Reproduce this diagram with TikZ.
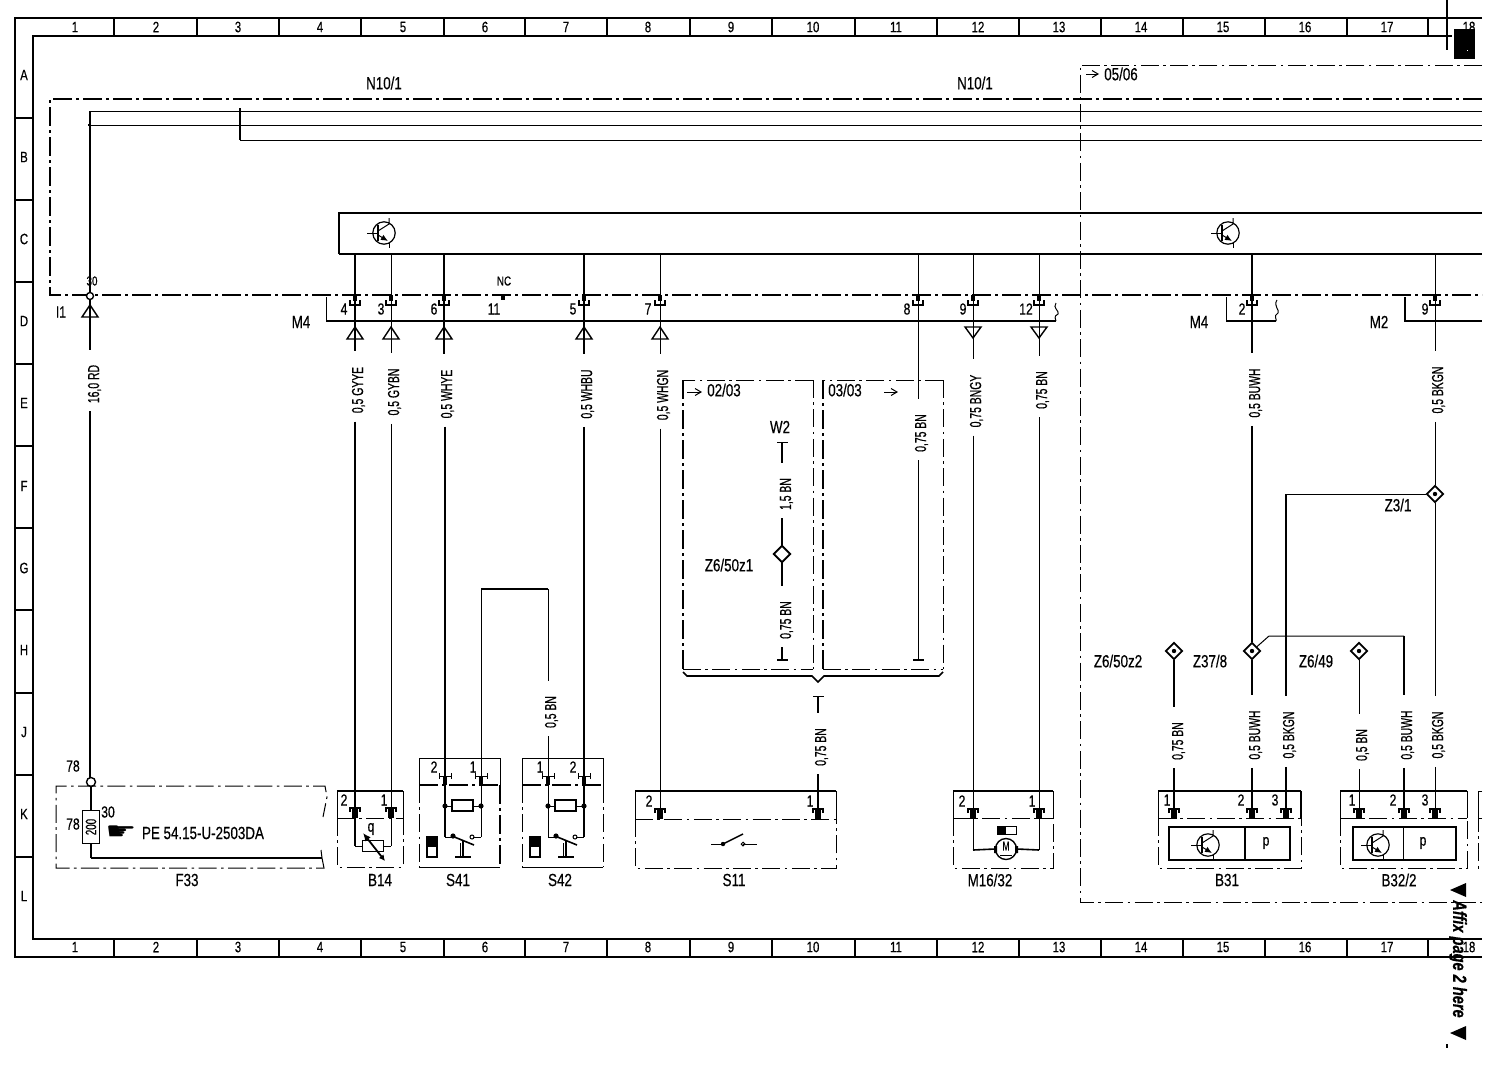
\documentclass[tikz,border=0pt]{standalone}
\usepackage{fontspec}
\setmainfont{Liberation Sans}
\newfontfamily\wirefnt[FakeStretch=0.65,FakeBold=0.5]{Liberation Sans}
\newfontfamily\txtfnt[FakeStretch=0.76,FakeBold=0.5]{Liberation Sans}
\newfontfamily\symfnt{DejaVu Sans}
\usetikzlibrary{shapes.geometric,arrows.meta}
\tikzset{
 thinw/.style={line width=0.5pt},
 thickw/.style={line width=1pt},
 dd/.style={line width=0.8pt,dash pattern=on 9.5pt off 2pt on 1.5pt off 2pt},
 ddt/.style={line width=0.5pt,dash pattern=on 9pt off 2.2pt on 1.3pt off 2.2pt},
 wl/.style={rotate=90,inner xsep=4pt,inner ysep=0pt,font=\wirefnt\fontsize{8}{8}\selectfont},
 tl/.style={inner sep=0pt,font=\txtfnt\fontsize{8.8}{9}\selectfont},
 pl/.style={inner sep=0pt,font=\txtfnt\fontsize{8}{9}\selectfont},
 rl/.style={inner sep=0pt,font=\txtfnt\fontsize{7.5}{8}\selectfont},
 dia/.style={diamond,draw,line width=0.9pt,fill=white,minimum width=8.5pt,minimum height=8.5pt,inner sep=0pt},
}
% a wire with a vertical label that interrupts it
\newcommand{\lw}[6]{%
 \node[wl,xshift=1.75pt,yshift=-0.75pt] (#4) at (#5) {#6\hspace*{3.5pt}};
 \draw[#1] (#2) -- (#2 |- #4.east);
 \draw[#1] (#3 |- #4.west) -- (#3);
}
\newcommand{\pinU}[1]{\fill (#1-2,295) rectangle (#1+2,301);\draw[line width=0.7pt] (#1-5,300)--(#1-5,305)--(#1+5,305)--(#1+5,300);}
\newcommand{\pinT}[2][808]{\fill (#2-3,#1) rectangle (#2+3,#1+10);\draw[line width=0.8pt] (#2-5,#1+4)--(#2-5,#1)--(#2+5,#1)--(#2+5,#1+4);}
\newcommand{\pinI}[1]{\fill (#1-2,776) rectangle (#1+2,785);\draw[line width=0.5pt] (#1-6,776)--(#1+6,776) (#1-6,773)--(#1-6,779) (#1+6,773)--(#1+6,779);}
\newcommand{\triU}[2]{\draw[line width=0.7pt] (#1-8,#2+12)--(#1+8,#2+12)--(#1,#2)--cycle;}
\newcommand{\triD}[2]{\draw[line width=0.7pt] (#1-8,#2)--(#1+8,#2)--(#1,#2+11)--cycle;}
\newcommand{\device}[5]{%
 \draw[line width=1.2pt] (#1,791)--(#2,791);
 \draw[thinw] (#1,791)--(#1,#3) (#2,791)--(#2,#3);
 \draw[ddt] (#1,#3)--(#2,#3);
 \draw[ddt] (#1,#3)--(#1,#4)--(#2,#4)--(#2,#3);
}
\newcommand{\transistor}[2]{%
 \draw[line width=0.6pt] (#1,#2) circle (5.6pt);
 \draw[thinw] (#1-17,#2)--(#1-6,#2);
 \draw[line width=0.8pt] (#1-6,#2-8)--(#1-6,#2+8);
 \draw[thinw] (#1-6,#2-2)--(#1+5,#2-9)--(#1+5,#2-15);
 \draw[thinw,-{Latex[length=3.5pt,width=3pt]}] (#1-6,#2+2)--(#1+4,#2+8);
 \draw[thinw] (#1+5,#2+9)--(#1+5,#2+15);
}
\newcommand{\swS}[1]{%
 % #1 = x of left wire
 \draw[line width=0.8pt] (#1+7,800) rectangle (#1+28,811);
 \draw[thinw] (#1,806)--(#1+7,806) (#1+28,806)--(#1+36,806);
 \fill (#1,806) circle (1.3pt) (#1+36,806) circle (1.3pt);
 \draw[thinw] (#1,837)--(#1+7,837);
 \fill (#1+8,836) circle (1.3pt);
 \draw[line width=0.8pt] (#1+7,836)--(#1+29,845);
 \draw[thinw] (#1+27,837) circle (1pt);
 \draw[thinw] (#1+28,837)--(#1+36,837);
 \draw[line width=1.2pt] (#1+18,840)--(#1+18,856);
 \draw[thinw] (#1+15,843)--(#1+15,856);
 \draw[line width=1pt] (#1+10,857)--(#1+26,857);
 \draw[line width=0.8pt] (#1-18,837) rectangle (#1-8,857);
 \fill (#1-18,837) rectangle (#1-8,847);
}
\begin{document}
\begin{tikzpicture}[x=0.5pt,y=-0.5pt,line cap=butt]
\useasboundingbox (0,0) rectangle (1492,1072);
% ===== frame =====
\draw[line width=0.9pt] (1482,18)--(15,18)--(15,957)--(1482,957);
\draw[line width=0.7pt] (1452,36)--(33,36)--(33,939)--(1482,939);
\foreach \x in {114,197,279,361,444,525,607,690,772,855,937,1019,1101,1183,1265,1347,1428}{
 \draw[line width=0.7pt] (\x,18)--(\x,36) (\x,939)--(\x,957);}
\foreach \y in {118,200,282,364,446,528,610,693,775,857}{
 \draw[line width=0.7pt] (15,\y)--(33,\y);}
\foreach \n/\x in {1/75,2/156,3/238,4/320,5/403,6/485,7/566,8/648,9/731,10/813,11/896,12/978,13/1059,14/1141,15/1223,16/1305,17/1387,18/1469}{
 \node[rl] (top\n) at (\x,27) {\n};
 \node[rl] (bot\n) at (\x,947) {\n};}
\foreach \n/\y in {A/75,B/157,C/239,D/321,E/403,F/486,G/568,H/650,J/732,K/814,L/896}{
 \node[rl] (row\n) at (24,\y) {\n};}
\draw[line width=1.2pt] (1447,0)--(1447,50);
\fill (1454,29) rectangle (1475,59);
\fill[white] (1467,50) rectangle (1468,51);
\draw[line width=0.8pt] (1447,1044)--(1447,1048);
\fill (1450,890)--(1466,883)--(1466,897)--cycle;
\fill (1450,1033)--(1466,1026)--(1466,1040)--cycle;
\node[rotate=-90,inner sep=0pt,font=\txtfnt\bfseries\itshape\fontsize{9.6}{10}\selectfont] (affix) at (1458,959) {Affix page 2 here};
% ===== N10/1 dash-dot field =====
\draw[dd] (1482,99)--(50,99)--(50,295)--(1482,295);
\node[tl] (n1) at (384,83) {N10/1};
\node[tl] (n2) at (975,83) {N10/1};
% ===== 05/06 field =====
\draw[ddt] (1482,65)--(1080,65)--(1080,902)--(1482,902);
\node[tl] (s0506) at (1121,74) {05/06};
\coordinate (a0506a) at (1086,74);\coordinate (a0506b) at (1099,74);
\draw[thinw,-{Straight Barb[length=3pt,width=3.5pt]}] (a0506a)--(a0506b);
% ===== rails =====
\coordinate (rA) at (90,111);\coordinate (rB) at (90,125);\coordinate (rC) at (240,140);
\draw[thinw] (rA)--(1482,111) (rB)--(1482,125);
\draw[thinw] (rC)--(1482,140);
\draw[line width=1.3pt] (240,108)--(rC);
\draw[line width=0.8pt] (88,125)--(90,125);
% ===== control box =====
\draw[line width=0.6pt] (1482,213)--(339,213)--(339,254);
\draw[line width=1pt] (339,254)--(1482,254);
\transistor{384}{233}
\transistor{1228}{233}
% ===== connector rails =====
\draw[thinw] (326,297)--(326,321);
\draw[line width=0.8pt] (326,321)--(1056,321);
\draw[thinw] (1056,303) .. controls (1052,308) and (1060,311) .. (1058,314) .. controls (1053,316) and (1056,320) .. (1056,321);
\draw[thinw] (1226,297)--(1226,321);
\draw[line width=0.8pt] (1226,321)--(1276,321);
\draw[thinw] (1277,300) .. controls (1273,306) and (1280,310) .. (1278,313) .. controls (1273,316) and (1277,319) .. (1276,321);
\draw[line width=0.8pt] (1405,297)--(1405,321)--(1482,321);
\node[tl] (m4a) at (301,322) {M4};
\node[tl] (m4b) at (1199,322) {M4};
\node[tl] (m2) at (1379,322) {M2};
\node[pl] (i1) at (61,312) {I1};
\node[rl,font=\txtfnt\fontsize{6.5}{7}\selectfont] (t30) at (92,281) {30};
\node[rl,font=\txtfnt\fontsize{6.5}{7}\selectfont] (nc) at (504,281) {NC};
\fill (501,295) rectangle (505,300);
\foreach \t/\x in {4/344,3/381,6/434,11/494,5/573,7/648,8/907,9/963,12/1026,2/1242,9/1425}{
 \node[pl] (pn\x) at (\x,309) {\t};}
% ===== top pin coordinates =====
\foreach \x in {355,391,444,584,660,918,973,1039,1252,1435}{
 \coordinate (t\x) at (\x,254);}
\foreach \x in {355,391,444,584,660,918,973,1039,1252,1435}{\pinU{\x}}
\foreach \x in {355,391,444,584,660}{\triU{\x}{327}}
\foreach \x in {973,1039}{\triD{\x}{327}}
% ===== F33 =====
\coordinate (t90) at (90,111);
\coordinate (j78c) at (90,782);
\lw{line width=0.8pt}{t90}{j78c}{lA}{93,384}{16,0 RD}
\node[circle,draw,line width=0.7pt,fill=white,minimum size=3.5pt,inner sep=0pt] (j30) at (90,296) {};
\triU{90}{305}
\node[circle,draw,line width=0.7pt,fill=white,minimum size=4.5pt,inner sep=0pt] (j78) at (91,782) {};
\draw[ddt] (322,858)--(324,868)--(56,868)--(56,786)--(325,786)--(327,797)--(323,817);
\draw[thinw] (322,858)--(321,850);
\coordinate (f1) at (91,858);\coordinate (f2) at (322,858);
\draw[line width=0.8pt] (j78)--(f1);
\draw[line width=0.7pt] (f1)--(f2);
\node[draw,thinw,fill=white,minimum width=8.3pt,minimum height=16.2pt,inner sep=0pt,font=\wirefnt\fontsize{7.5}{8}\selectfont] (fuse) at (91,827) {\rotatebox{90}{200}};
\node[pl] (f78a) at (73,766) {78};
\node[pl] (f78b) at (73,824) {78};
\node[pl] (f30) at (108,812) {30};
\node[inner sep=0pt,font=\symfnt\fontsize{12}{12}\selectfont] (hand) at (121,833) {\scalebox{1.45}[1]{☛}};
\node[tl] (pe) at (203,833) {PE 54.15-U-2503DA};
\node[tl] (lF33) at (187,880) {F33};
% ===== B14 =====
\device{337}{403}{818}{867}{}
\coordinate (b14a) at (355,846);\coordinate (b14b) at (391,846);
\lw{line width=0.8pt}{t355}{b14a}{lB}{357,390}{0,5 GYYE}
\lw{thinw}{t391}{b14b}{lC}{393,392}{0,5 GYBN}
\foreach \x in {355,391}{\pinT{\x}}
\node[draw,line width=0.7pt,minimum width=10.5pt,minimum height=5.5pt,inner sep=0pt] (res) at (373,846) {};
\draw[thinw] (b14a)--(res.west) (res.east)--(b14b);
\draw[line width=0.9pt,{Latex[length=4pt,width=3.5pt]}-{Latex[length=3pt,width=3pt]}] (363,833)--(385,861);
\node[pl] (q) at (371,829) {q};
\node[pl] (b14n2) at (344,800) {2};
\node[pl] (b14n1) at (384,800) {1};
\node[tl] (lB14) at (380,880) {B14};
% ===== S41 =====
\draw[thinw] (419,785)--(419,758)--(500,758)--(500,785);
\draw[dd] (419,785)--(500,785);
\draw[ddt] (419,785)--(419,867);
\draw[thinw] (419,867)--(500,867);
\draw[dd] (500,785)--(500,867);
\coordinate (s41a) at (445,837);\coordinate (s41b) at (481,837);
\coordinate (s41top) at (481,589);\coordinate (s42top) at (548,589);
\lw{line width=0.8pt}{t444}{s41a}{lD}{446,394}{0,5 WHYE}
\draw[thinw] (s41b)--(s41top);
\draw[line width=0.8pt] (s41top)--(s42top);
\pinI{445}\pinI{481}
\swS{445}
\node[pl] (s41n2) at (434,767) {2};
\node[pl] (s41n1) at (473,767) {1};
\node[tl] (lS41) at (458,880) {S41};
% ===== S42 =====
\draw[thinw] (522,785)--(522,758)--(603,758)--(603,785);
\draw[dd] (522,785)--(603,785);
\draw[ddt] (522,785)--(522,867);
\draw[thinw] (522,867)--(603,867);
\draw[ddt] (603,785)--(603,867);
\coordinate (s42a) at (548,837);\coordinate (s42b) at (584,837);
\lw{thinw}{s42top}{s42a}{lE}{550,712}{0,5 BN}
\lw{line width=0.8pt}{t584}{s42b}{lF}{586,394}{0,5 WHBU}
\pinI{548}\pinI{584}
\swS{548}
\node[pl] (s42n1) at (540,767) {1};
\node[pl] (s42n2) at (573,767) {2};
\node[tl] (lS42) at (560,880) {S42};
% ===== S11 =====
\device{635}{836}{819}{868}{}
\coordinate (s11a) at (660,812);\coordinate (s11b) at (818,812);\coordinate (tT) at (818,696);
\lw{thinw}{t660}{s11a}{lG}{662,395}{0,5 WHGN}
\lw{line width=0.8pt}{tT}{s11b}{lH}{820,747}{0,75 BN}
\draw[thinw] (813,696)--(824,696);
\pinT[809]{660}\pinT[809]{818}
\node[pl] (s11n2) at (649,801) {2};
\node[pl] (s11n1) at (810,801) {1};
\draw[thinw] (711,844)--(723,844);
\draw[line width=0.7pt] (723,844)--(743,834);
\draw[thinw] (743,844)--(757,844);
\fill (723,844) circle (1.1pt);
\draw[thinw] (743,844) circle (0.9pt);
\node[tl] (lS11) at (734,880) {S11};
% ===== 02/03 and 03/03 =====
\draw[ddt] (813,380)--(683,380);
\draw[dd] (683,380)--(683,669);
\draw[ddt] (683,669)--(813,669);
\draw[ddt] (813,380)--(813,669);
\draw[ddt] (943,380)--(823,380);
\draw[dd] (823,380)--(823,669);
\draw[ddt] (823,669)--(943,669);
\draw[ddt] (943,380)--(943,669);
\draw[line width=0.8pt] (683,672)--(687,676)--(812,676)--(818,682)--(824,676)--(939,676)--(943,672);
\coordinate (arA) at (687,392);\coordinate (arB) at (702,392);
\draw[thinw,-{Straight Barb[length=3pt,width=3.5pt]}] (arA)--(arB);
\node[tl] (s0203) at (724,390) {02/03};
\node[tl] (s0303) at (845,390) {03/03};
\coordinate (arC) at (884,392);\coordinate (arD) at (898,392);
\draw[thinw,-{Straight Barb[length=3pt,width=3.5pt]}] (arC)--(arD);
\node[tl] (w2) at (780,427) {W2};
\coordinate (w2t) at (782,442);\coordinate (w2b) at (782,660);
\node[dia] (zz) at (782,554) {};
\lw{line width=1pt}{w2t}{zz}{lI}{785,494}{1,5 BN}
\lw{line width=1pt}{zz}{w2b}{lJ}{785,620}{0,75 BN}
\node[dia] (zz2) at (782,554) {};
\draw[thinw] (777,442)--(788,442);
\draw[line width=0.8pt] (777,660)--(788,660);
\node[tl] (z650z1) at (729,565) {Z6/50z1};
\coordinate (w8b) at (918,660);
\lw{thinw}{t918}{w8b}{lK}{920,433}{0,75 BN}
\draw[line width=0.8pt] (913,660)--(924,660);
% ===== M16/32 =====
\device{953}{1053}{818}{868}{}
\coordinate (m1) at (973,850);\coordinate (m2c) at (1039,850);
\lw{thinw}{t973}{m1}{lL}{975,401}{0,75 BNGY}
\lw{thinw}{t1039}{m2c}{lM}{1041,390}{0,75 BN}
\pinT[809]{973}\pinT[809]{1039}
\node[circle,draw,line width=0.7pt,minimum size=10.5pt,inner sep=0pt] (mot) at (1006,849) {};
\node[inner sep=0pt,font=\wirefnt\fontsize{6.5}{7}\selectfont] (mm) at (1006,846) {M};
\draw[thinw] (1000,855)--(1012,855);
\draw[line width=0.8pt] (m1)--(mot.west) (mot.east)--(m2c);
\fill (994,846) rectangle (997,853) (1015,846) rectangle (1018,853);
\draw[thinw] (997,826) rectangle (1016,834);
\fill (997,826) rectangle (1006,834);
\node[pl] (mn2) at (962,801) {2};
\node[pl] (mn1) at (1032,801) {1};
\node[tl] (lM16) at (990,880) {M16/32};
% ===== B31 =====
\device{1158}{1301}{818}{868}{}
\draw[line width=1pt] (1301,791)--(1301,818);
\draw[line width=1pt] (1169,827) rectangle (1290,860);
\draw[line width=0.8pt] (1245,827)--(1245,860);
\node[pl] (p1) at (1266,843) {p};
\transistor{1208}{845}
% ===== B32/2 =====
\device{1340}{1467}{818}{868}{}
\draw[line width=0.8pt] (1353,827) rectangle (1456,860);
\draw[thinw] (1403,827)--(1403,860);
\node[pl] (p2) at (1423,843) {p};
\transistor{1378}{845}
\draw[thinw] (1482,791)--(1478,791)--(1478,818);
\draw[ddt] (1482,818)--(1478,818)--(1478,868)--(1482,868);
% ===== lower right wires =====
\node[dia,fill=none] (z31) at (1435,494) {};
\node[dia,fill=none] (z378) at (1252,651) {};
\node[dia,fill=none] (z650) at (1174,651) {};
\node[dia,fill=none] (z649) at (1359,651) {};
\foreach \n in {z31,z378,z650,z649}{\fill (\n) circle (1.1pt);}
\coordinate (b1) at (1174,812);\coordinate (b2) at (1252,812);\coordinate (b3) at (1286,812);
\coordinate (b4) at (1359,812);\coordinate (b5) at (1404,812);\coordinate (b6) at (1435,812);
\coordinate (kn1) at (1286,494);\coordinate (kn2) at (1404,636);\coordinate (kn3) at (1269,636);
\lw{line width=1pt}{t1252}{z378}{lN}{1254,393}{0,5 BUWH}
\lw{thinw}{t1435}{z31}{lO}{1437,390}{0,5 BKGN}
\lw{line width=1pt}{z378}{b2}{lP}{1254,735}{0,5 BUWH}
\lw{thinw}{z31}{b6}{lQ}{1437,735}{0,5 BKGN}
\lw{line width=1pt}{kn1}{b3}{lR}{1288,735}{0,5 BKGN}
\lw{line width=1pt}{kn2}{b5}{lS}{1406,735}{0,5 BUWH}
\lw{line width=1pt}{z650}{b1}{lT}{1177,741}{0,75 BN}
\lw{thinw}{z649}{b4}{lU}{1361,745}{0,5 BN}
\draw[thinw] (z31)--(kn1);
\draw[thinw] (z378)--(kn3)--(kn2);
\foreach \x in {1174,1252,1286,1359,1404,1435}{\pinT[809]{\x}}
\node[pl] (bn1) at (1167,800) {1};
\node[pl] (bn2) at (1241,800) {2};
\node[pl] (bn3) at (1275,800) {3};
\node[pl] (bn4) at (1352,800) {1};
\node[pl] (bn5) at (1393,800) {2};
\node[pl] (bn6) at (1425,800) {3};
\node[tl] (lB31) at (1227,880) {B31};
\node[tl] (lB32) at (1399,880) {B32/2};
\node[tl] (z31l) at (1398,505) {Z3/1};
\node[tl] (z378l) at (1210,661) {Z37/8};
\node[tl] (z650l) at (1118,661) {Z6/50z2};
\node[tl] (z649l) at (1316,661) {Z6/49};
\end{tikzpicture}
\end{document}
